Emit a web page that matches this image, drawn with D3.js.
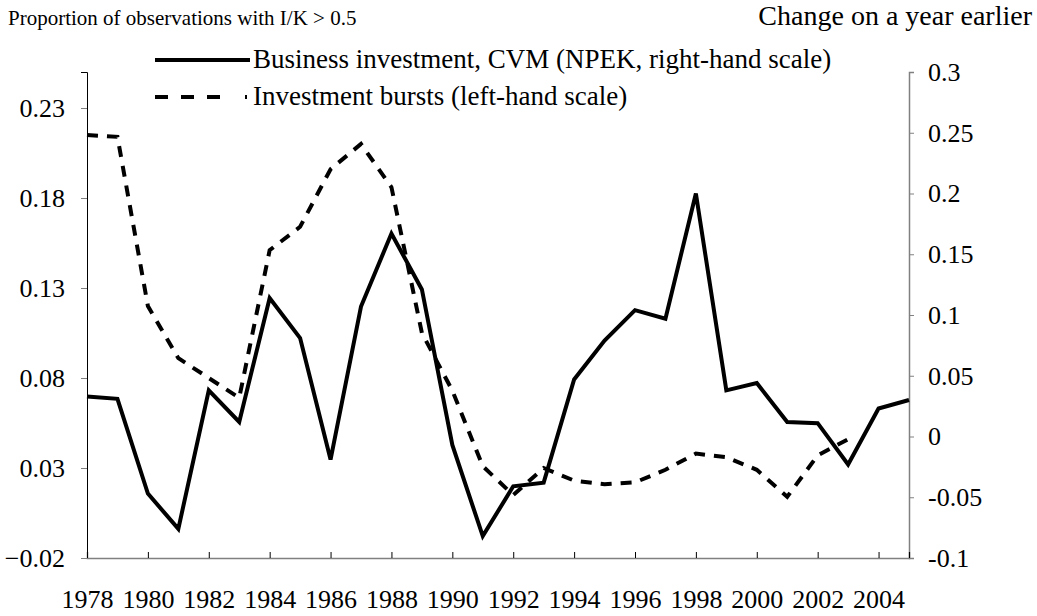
<!DOCTYPE html>
<html>
<head>
<meta charset="utf-8">
<script src="https://cdn.jsdelivr.net/npm/d3@7"></script>
<style>
  body { margin: 0; background: #fff; }
  svg { display: block; }
  text { font-family: "Liberation Serif", "Times New Roman", serif; fill: #000; }
</style>
</head>
<body>
<svg id="chart" width="1037" height="616"></svg>
<script>
"use strict";

const years = d3.range(1978, 2006);
const tickYears = d3.range(1978, 2005, 2);

// Business investment growth, right-hand scale
const investment = [
    0.033, 0.031, -0.047, -0.076, 0.038, 0.012, 0.114, 0.081, -0.019, 0.107,
    0.167, 0.121, -0.007, -0.082, -0.041, -0.038, 0.047, 0.079, 0.104, 0.097,
    0.200, 0.038, 0.044, 0.012, 0.011, -0.023, 0.023, 0.030,
];

// Investment bursts, left-hand scale (1978-2003)
const bursts = [
    0.215, 0.214, 0.120, 0.091, 0.080, 0.069, 0.151, 0.164, 0.196, 0.210,
    0.186, 0.105, 0.073, 0.031, 0.015, 0.030, 0.023, 0.021, 0.022, 0.029,
    0.038, 0.036, 0.029, 0.014, 0.037, 0.046,
];

const leftTicks = [-0.02, 0.03, 0.08, 0.13, 0.18, 0.23];
const rightTicks = [-0.1, -0.05, 0, 0.05, 0.1, 0.15, 0.2, 0.25, 0.3];

const margin = {top: 72, right: 128, bottom: 58, left: 87};
const width = 1037;
const height = 616;
const axisColor = "#808080";
const tickFont = 26;
const legendFont = 27;

const svg = d3.select("#chart");

const x = d3.scaleLinear()
    .domain([1978, 2005])
    .range([margin.left, width - margin.right]);

const yLeft = d3.scaleLinear()
    .domain([-0.02, 0.25])
    .range([height - margin.bottom, margin.top]);

const yRight = d3.scaleLinear()
    .domain([-0.1, 0.3])
    .range([height - margin.bottom, margin.top]);

// axes
const leftAxis = svg.append("g")
    .attr("transform", `translate(${margin.left},0)`)
    .call(d3.axisLeft(yLeft).tickValues(leftTicks).tickSize(6).tickPadding(16)
        .tickFormat(d => d3.format(".2f")(d)));

const rightAxis = svg.append("g")
    .attr("transform", `translate(${width - margin.right},0)`)
    .call(d3.axisRight(yRight).tickValues(rightTicks).tickSize(5).tickPadding(14)
        .tickFormat(d => d === 0 ? "0" : String(+d.toFixed(2))));

const bottomAxis = svg.append("g")
    .attr("transform", `translate(0,${height - margin.bottom})`)
    .call(d3.axisBottom(x).tickValues(tickYears.concat([2005])).tickSize(-6).tickPadding(32)
        .tickFormat(d => d === 2005 ? "" : d));

for (const g of [leftAxis, rightAxis, bottomAxis]) {
    g.select(".domain").attr("stroke", axisColor).attr("stroke-width", 1.5);
    g.selectAll(".tick line").attr("stroke", axisColor).attr("stroke-width", 1);
    g.selectAll(".tick text")
        .style("font-family", "'Liberation Serif', serif")
        .style("font-size", tickFont + "px")
        .attr("fill", "#000");
}
leftAxis.select(".domain").attr("stroke", "#000").attr("stroke-width", 1);
bottomAxis.selectAll(".tick line").attr("stroke", "#000");

// lines
const investmentLine = d3.line()
    .x((d, i) => x(years[i]))
    .y(d => yRight(d));

const burstLine = d3.line()
    .x((d, i) => x(years[i]))
    .y(d => yLeft(d));

svg.append("path")
    .datum(bursts)
    .attr("fill", "none")
    .attr("stroke", "#000")
    .attr("stroke-width", 4)
    .attr("stroke-dasharray", "11,9")
    .attr("d", burstLine);

svg.append("path")
    .datum(investment)
    .attr("fill", "none")
    .attr("stroke", "#000")
    .attr("stroke-width", 4)
    .attr("d", investmentLine);

// titles
svg.append("text")
    .attr("x", 8)
    .attr("y", 25)
    .style("font-size", "21px")
    .text("Proportion of observations with I/K > 0.5");

svg.append("text")
    .attr("x", 1032)
    .attr("y", 25)
    .attr("text-anchor", "end")
    .style("font-size", "28px")
    .text("Change on a year earlier");

// legend
const legend = [
    {label: "Business investment, CVM (NPEK, right-hand scale)", dash: null, y: 60},
    {label: "Investment bursts (left-hand scale)", dash: "13,13,13,13,13,25,2", y: 97},
];

const legendItem = svg.append("g")
    .selectAll("g")
    .data(legend)
    .join("g");

legendItem.append("line")
    .attr("x1", 155)
    .attr("x2", 250)
    .attr("y1", d => d.y)
    .attr("y2", d => d.y)
    .attr("stroke", "#000")
    .attr("stroke-width", 4)
    .attr("stroke-dasharray", d => d.dash);

legendItem.append("text")
    .attr("x", 253)
    .attr("y", d => d.y + 8)
    .style("font-size", legendFont + "px")
    .text(d => d.label);
</script>
</body>
</html>
